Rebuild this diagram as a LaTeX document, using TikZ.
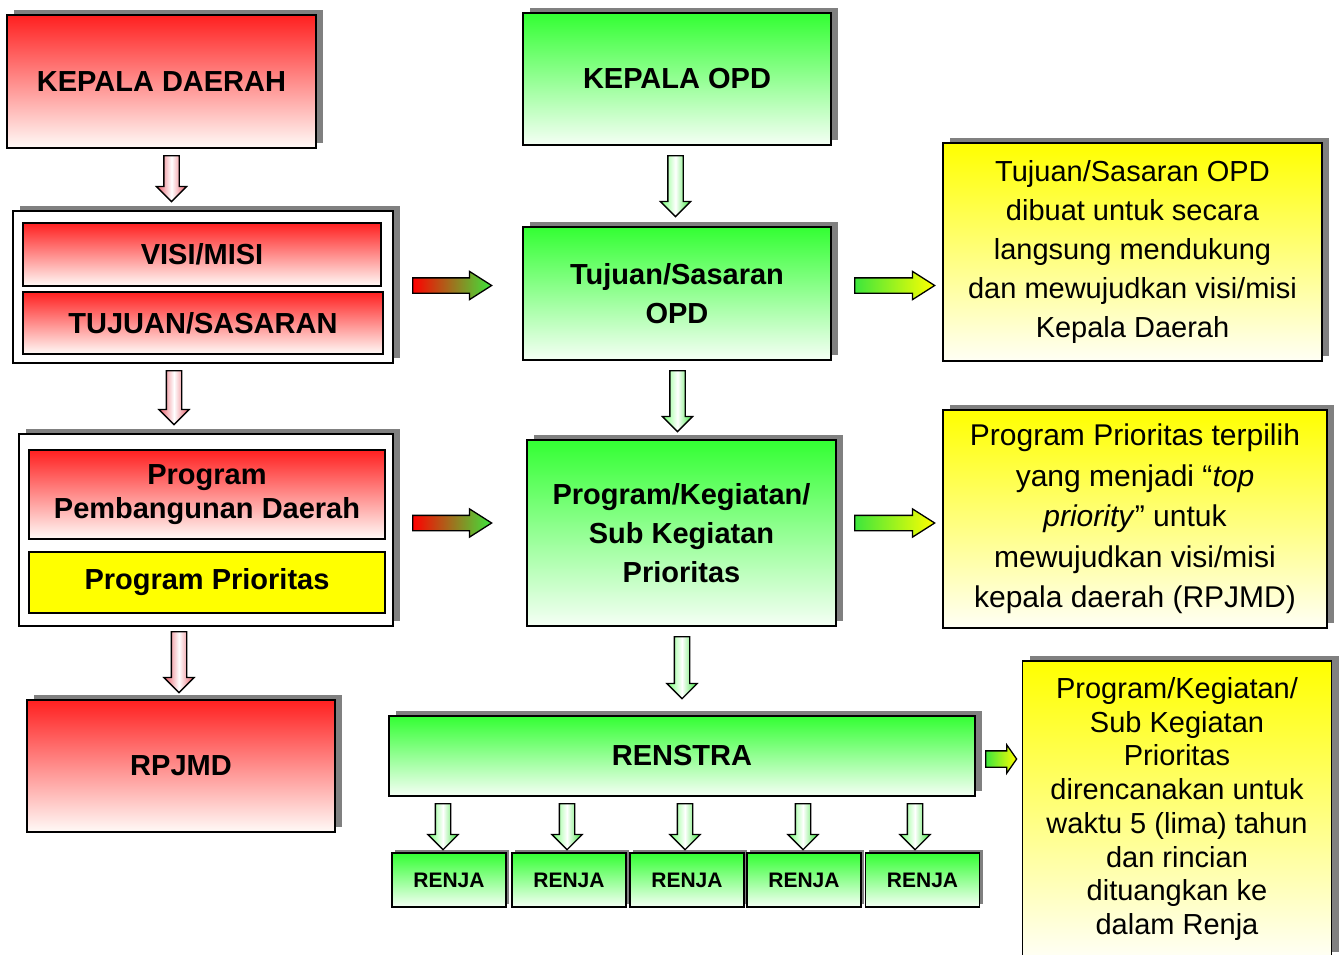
\documentclass[tikz,border=0pt]{standalone}
\usepackage{fontspec}
\setmainfont{Liberation Sans}
\usetikzlibrary{shapes.arrows,shadows}

\definecolor{topred}{RGB}{255,32,32}
\definecolor{botred}{RGB}{255,250,247}
\definecolor{topgreen}{RGB}{51,255,51}
\definecolor{botgreen}{RGB}{245,255,245}
\definecolor{topyellow}{RGB}{255,255,0}
\definecolor{botyellow}{RGB}{255,255,245}
\definecolor{shadowgray}{RGB}{128,128,128}
\definecolor{arrowred}{RGB}{232,88,100}
\definecolor{arrowgreen}{RGB}{60,230,60}

\newcommand\boxfont{\bfseries\fontsize{29}{39}\selectfont}
\newcommand\renjafont{\bfseries\fontsize{21}{25}\selectfont}

\tikzset{
  dims/.style 2 args={minimum width=#1pt, minimum height=#2pt},
  box/.style={draw, line width=1.8pt, inner sep=0pt, align=center, font=\boxfont},
  shadowed/.style={drop shadow={shadow xshift=7pt, shadow yshift=5pt, fill=shadowgray, opacity=1}},
  redbox/.style={box, shadowed, top color=topred, bottom color=botred},
  redinner/.style={box, top color=topred, bottom color=botred},
  greenbox/.style={box, shadowed, top color=topgreen, bottom color=botgreen},
  renjabox/.style={box, font=\renjafont, top color=topgreen, bottom color=botgreen,
    drop shadow={shadow xshift=3pt, shadow yshift=3pt, fill=shadowgray, opacity=1}},
  outerbox/.style={box, shadowed, fill=white},
  notebox/.style={box, shadowed, font=\fontsize{29}{39}\selectfont, top color=topyellow, bottom color=botyellow},
  vblock/.style={single arrow, draw, line width=1.3pt, rotate=-90, anchor=tail, inner xsep=0pt, inner ysep=7pt,
    minimum height=#1, single arrow head extend=7.5pt, single arrow tip angle=90},
  hblock/.style={single arrow, draw, line width=1.3pt, anchor=tail, inner xsep=0pt, inner ysep=7pt,
    minimum height=#1, single arrow head extend=6.5pt, single arrow tip angle=65},
  redarrow/.style={left color=arrowred, right color=arrowred, middle color=white},
  greenarrow/.style={left color=green!55, right color=arrowgreen, middle color=white},
  redtogreen/.style={left color=red, right color=arrowgreen},
  greentoyellow/.style={left color=arrowgreen, right color=yellow}
}

\begin{document}
\begin{tikzpicture}[x=1pt, y=-1pt]
\useasboundingbox (0,0) rectangle (1341,954);
\clip (0,0) rectangle (1341,954);

% kolom kepala daerah
\node[redbox, dims={309}{133}] (kd) at (161.5,81.5) {KEPALA DAERAH};
\node[outerbox, dims={380}{152}] (visibox) at (203,287) {};
\node[redinner, dims={358}{63}] (visi) at (202,254.5) {VISI/MISI};
\node[redinner, dims={360}{62}] (sasaran) at (203,323) {TUJUAN/SASARAN};
\node[outerbox, dims={374}{192}] (progbox) at (206,530) {};
\node[redinner, dims={356}{89}, font=\bfseries\fontsize{29}{34}\selectfont] (ppd) at (207,494.5) {Program\\Pembangunan Daerah};
\node[box, fill=topyellow, dims={356}{61}] (prior) at (207,582.5) {Program Prioritas};
\node[redbox, dims={308}{132}] (rpjmd) at (181,766) {RPJMD};

% kolom OPD
\node[greenbox, dims={308}{132}] (kopd) at (677,79) {KEPALA OPD};
\node[greenbox, dims={308}{133}] (topd) at (677,293.5) {Tujuan/Sasaran\\OPD};
\node[greenbox, dims={309}{186}] (pks) at (681.5,533) {Program/Kegiatan/\\Sub Kegiatan\\Prioritas};
\node[greenbox, dims={586}{80}] (renstra) at (682,756) {RENSTRA};
\foreach \x [count=\i] in {449,569,687,804,922.5}
  \node[renjabox, dims={114}{54}] (renja\i) at (\x,880) {RENJA};

% keterangan
\node[notebox, dims={379}{218}] (note1) at (1132.5,252)
  {Tujuan/Sasaran OPD\\dibuat untuk secara\\langsung mendukung\\dan mewujudkan visi/misi\\Kepala Daerah};
\node[notebox, dims={384}{218}, font=\fontsize{30}{40.5}\selectfont] (note2) at (1135,519)
  {Program Prioritas terpilih\\yang menjadi “\textit{top}\\\textit{priority}” untuk\\mewujudkan visi/misi\\kepala daerah (RPJMD)};
\node[notebox, dims={309}{296}, font=\fontsize{29}{33.7}\selectfont] (note3) at (1177,809)
  {Program/Kegiatan/\\Sub Kegiatan\\Prioritas\\direncanakan untuk\\waktu 5 (lima) tahun\\dan rincian\\dituangkan ke\\dalam Renja};

% panah
\node[vblock=46pt, redarrow] (kd-visi) at (171.5,155) {};
\node[vblock=54pt, redarrow] (visi-prog) at (174,370) {};
\node[vblock=61pt, redarrow] (prog-rpjmd) at (179,631) {};
\node[vblock=61pt, greenarrow] (kopd-topd) at (675.5,155) {};
\node[vblock=61pt, greenarrow] (topd-pks) at (677.5,370) {};
\node[vblock=62pt, greenarrow] (pks-renstra) at (682,636) {};
\foreach \x [count=\i] in {443,567,685,803,915}
  \node[vblock=46pt, greenarrow] (renstra-renja\i) at (\x,803) {};
\node[hblock=79pt, redtogreen] (visi-topd) at (412,285.5) {};
\node[hblock=80pt, greentoyellow] (topd-note) at (854,285.5) {};
\node[hblock=79pt, redtogreen] (prog-pks) at (412,523) {};
\node[hblock=80pt, greentoyellow] (pks-note) at (854,523) {};
\node[hblock=31pt, greentoyellow, inner ysep=7.5pt, single arrow head extend=6pt, single arrow tip angle=110] (renstra-note) at (985,759) {};

\end{tikzpicture}
\end{document}
